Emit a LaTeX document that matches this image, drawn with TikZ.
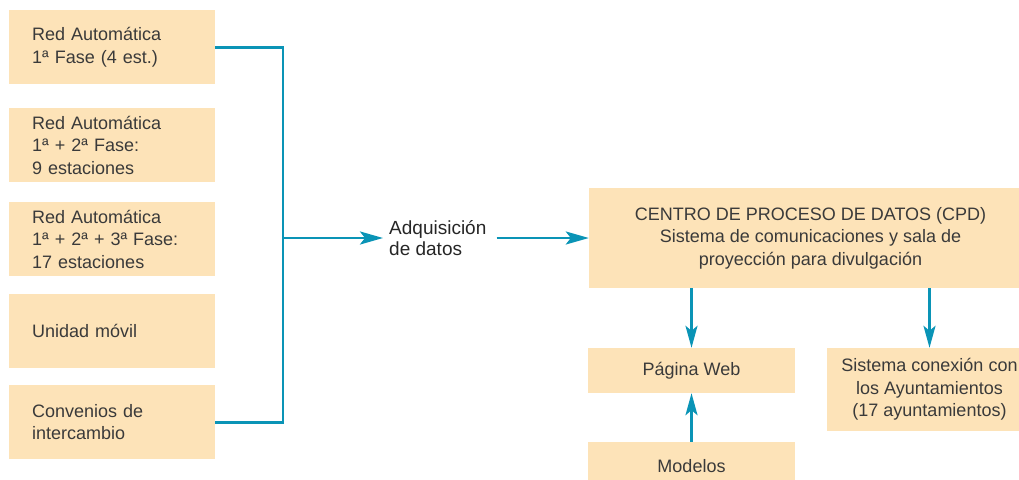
\documentclass[tikz,border=0pt]{standalone}
\usepackage{fontspec}
\setmainfont{Liberation Sans}
\usetikzlibrary{arrows.meta}
\definecolor{peach}{HTML}{FDE3B8}
\definecolor{flow}{HTML}{0A94B6}
\definecolor{ink}{HTML}{3A3A3A}
\begin{document}
\begin{tikzpicture}[x=1pt,y=-1pt,
  box/.style={fill=peach,draw=none,inner ysep=0pt,text=ink,
    font=\fontsize{18}{22.5}\selectfont},
  srcbox/.style={box,anchor=north west,text width=160pt,align=left,
    inner xsep=23pt,minimum width=206pt,minimum height=74pt},
  link/.style={draw=flow,line width=2.6pt,line join=miter},
  arr/.style={link,-{Stealth[length=23pt,width=13pt,inset=5pt]}},
  varr/.style={link,-{Stealth[length=22pt,width=12pt,inset=5pt]}}]
\useasboundingbox (0,0) rectangle (1019,479);
\clip (0,0) rectangle (1019,479);

% data sources
\node[srcbox] (b1) at (9,10)  {Red Automática\\1ª Fase (4 est.)};
\node[srcbox] (b2) at (9,108) {Red Automática\\1ª + 2ª Fase:\\9 estaciones};
\node[srcbox] (b3) at (9,202) {Red Automática\\1ª + 2ª + 3ª Fase:\\17 estaciones};
\node[srcbox] (b4) at (9,294) {Unidad móvil};
\node[srcbox] (b5) at (9,385) {Convenios de\\intercambio};

% collecting bus
\coordinate (bus) at (283,238);
\path[link] (b1.east) -| (bus) |- (b5.east);

% acquisition
\node[anchor=west,align=left,inner xsep=6pt,inner ysep=0pt,text=black!85,
  font=\fontsize{19}{21}\selectfont] (adq) at (383,238) {Adquisición\\de datos};
\path[arr] (bus) -- (adq.west);

% processing centre
\node[box,align=center,minimum width=443pt,minimum height=100pt] (cpd) at (810.5,238)
  {CENTRO DE PROCESO DE DATOS (CPD)\\Sistema de comunicaciones y sala de\\proyección para divulgación};
\path[arr,shorten <=4pt] (adq.east) -- (cpd.west);

% outputs
\node[box,align=center,minimum width=207pt,minimum height=45pt] (web) at (691.5,370.5) {Página Web};
\node[box,align=center,minimum width=207pt,minimum height=48pt] (mod) at (691.5,466) {Modelos};
\node[box,align=center,minimum width=205pt,minimum height=83pt] (ayu) at (929.5,389.5)
  {Sistema conexión con\\los Ayuntamientos\\(17 ayuntamientos)};

\path[varr] (cpd.south -| web.north) -- (web.north);
\path[varr] (cpd.south -| ayu.north) -- (ayu.north);
\path[varr] (mod.north) -- (web.south);
\end{tikzpicture}
\end{document}
